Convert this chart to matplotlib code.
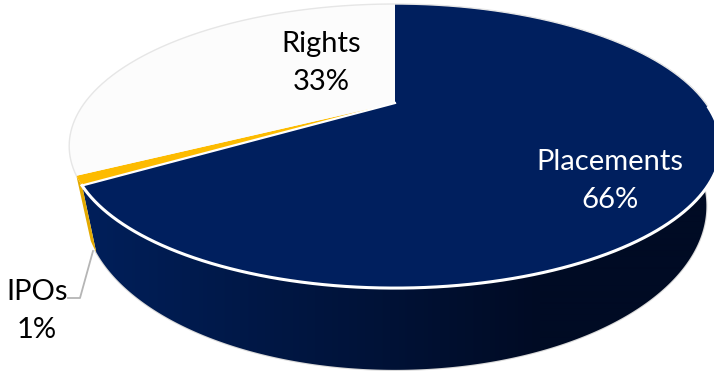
import numpy as np
import matplotlib
matplotlib.use("Agg")
import matplotlib.pyplot as plt
from matplotlib.colors import to_rgb
from matplotlib.patches import Polygon

# Share of fundraising by issue type, clockwise from twelve o'clock
categories = ["Placements", "IPOs", "Rights"]
shares = [66, 1, 33]
top_colours = ["#001f5e", "#fdbb00", "#fcfcfc"]

W, H = 714, 371
fig = plt.figure(figsize=(W / 100, H / 100), dpi=100)
ax = fig.add_axes([0, 0, 1, 1])

# Perspective projection of the pie's upper and lower faces onto the canvas
TOP_FACE = dict(x0=395, y0=103, a=310.5, b=129, k=0.303)
LOW_FACE = dict(x0=395, y0=157, a=297, b=149, k=0.30)


def project(theta_deg, face):
    t = np.radians(theta_deg)
    u, v = np.sin(t), np.cos(t)
    w = 1 + face["k"] * v
    return face["x0"] + face["a"] * u / w, face["y0"] - face["b"] * v / w


edges = np.concatenate([[0], np.cumsum(shares)]) * 360 / sum(shares)


def side_outline(start, end):
    th = np.linspace(start, end, 300)
    x0, y0 = project(th, TOP_FACE)
    x1, y1 = project(th[::-1], LOW_FACE)
    return np.column_stack([np.r_[x0, x1], np.r_[y0, y1]])


# Faint outline under the extruded side
rx, ry = project(np.linspace(80, 238, 200), LOW_FACE)
ax.plot(rx, ry, color="#d9d9d9", lw=1.6, zorder=1)

# Extruded side of the placements wedge, shaded from left to right
stops = np.clip((np.arange(W) - 90) / 450, 0, 1)[None, :, None]
left_col = np.array(to_rgb("#001f5a"))
right_col = np.array(to_rgb("#000b24"))
shade = left_col[None, None, :] + (right_col - left_col)[None, None, :] * stops
img = ax.imshow(shade, extent=(0, W, H, 0), aspect="auto", zorder=2, interpolation="bilinear")
clip = Polygon(side_outline(70, edges[1]), closed=True, transform=ax.transData)
img.set_clip_path(clip)

# Extruded side of the IPO wedge
ax.add_patch(Polygon(side_outline(edges[1], edges[2]), closed=True, color="#e3a900", lw=0, zorder=2))

# Upper face wedges
for i, (start, end) in enumerate(zip(edges[:-1], edges[1:])):
    th = np.linspace(start, end, max(int(end - start), 2) + 1)
    x, y = project(th, TOP_FACE)
    xs = np.r_[TOP_FACE["x0"], x]
    ys = np.r_[TOP_FACE["y0"], y]
    ax.fill(xs, ys, color=top_colours[i], lw=0, zorder=3)

# Pale outline round the rear of the upper face
x, y = project(np.linspace(edges[2], 360 + 92, 300), TOP_FACE)
ax.plot(x, y, color="#e6e6e6", lw=1.0, zorder=3.5)

# White rim along the front of the upper face
x, y = project(np.linspace(92, edges[1], 200), TOP_FACE)
ax.plot(x, y, color="white", lw=2.2, zorder=4)

# Thin separator between the placements and IPO wedges
ex, ey = project(edges[1], TOP_FACE)
ax.plot([TOP_FACE["x0"], ex], [TOP_FACE["y0"], ey], color="white", lw=1.6, zorder=4)

# Labels
font = dict(family="Lato", fontsize=21, ha="center", va="center", linespacing=1.55)
ax.text(610, 181, f"{categories[0]}\n{shares[0]}%", color="white", zorder=5, **font)
ax.text(321, 63, f"{categories[2]}\n{shares[2]}%", color="black", zorder=5, **font)
ax.text(37, 311, f"{categories[1]}\n{shares[1]}%", color="black", zorder=5, **font)

# Leader line for the small wedge
ax.plot([68, 80, 93], [298, 298, 251], color="#b5b5b5", lw=1.3, zorder=5)

ax.set_xlim(0, W)
ax.set_ylim(H, 0)
ax.axis("off")
fig.savefig("out.png", dpi=100, facecolor="white")
